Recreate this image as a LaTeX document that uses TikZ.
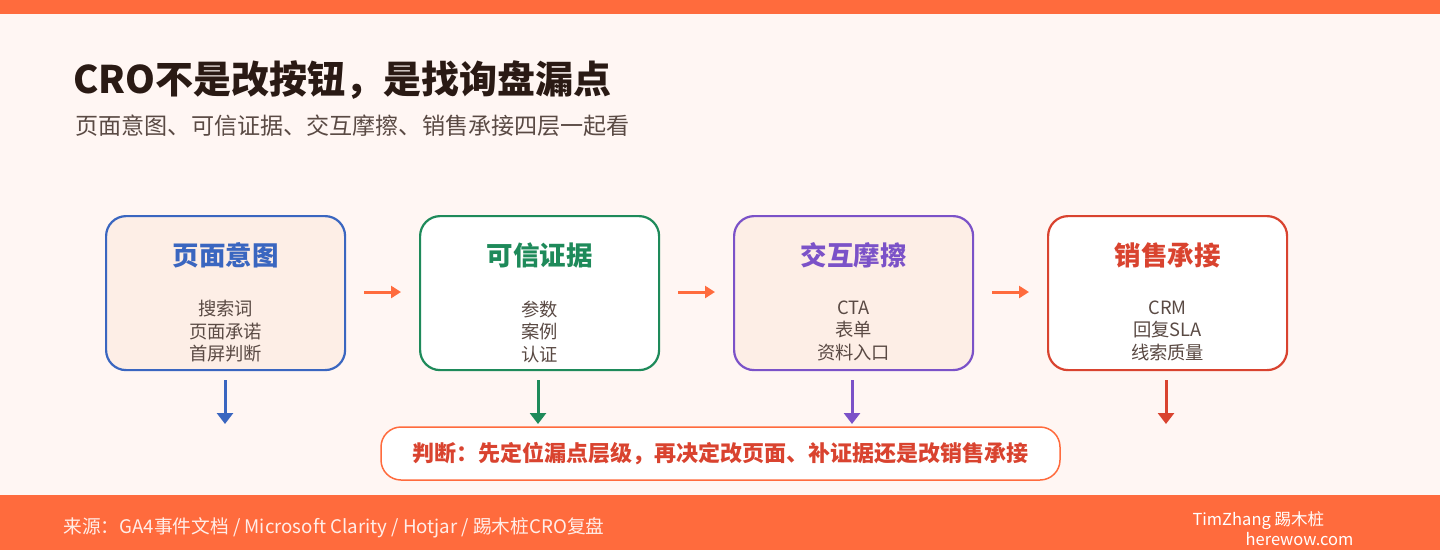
\documentclass[tikz,border=0pt]{standalone}
\usepackage{fontspec}
\usetikzlibrary{arrows.meta}
\setmainfont{Noto Sans CJK SC}
\definecolor{bg}{HTML}{FFF6F3}
\definecolor{org}{HTML}{FF6B3D}
\definecolor{peach}{HTML}{FDEEE6}
\definecolor{cblue}{HTML}{3A66C0}
\definecolor{cgreen}{HTML}{1E8A5A}
\definecolor{cpurp}{HTML}{7B52C8}
\definecolor{cred}{HTML}{D9432F}
\definecolor{ink}{HTML}{2A1A14}
\definecolor{txt}{HTML}{5A4A44}
\begin{document}
\begin{tikzpicture}[x=1pt,y=-1pt,
 card/.style={draw,line width=2.2pt,rounded corners=20pt,minimum width=239pt,minimum height=154pt,anchor=north west},
 ttl/.style={font=\bfseries\fontsize{26.5}{30}\selectfont},
 itm/.style={text=txt,font=\fontsize{18.3}{22.5}\selectfont,align=center},
 harr/.style={org,line width=3pt,-{Triangle[length=10pt,width=12pt]}},
 varr/.style={line width=3pt,-{Triangle[length=11pt,width=16pt]}}]
\fill[bg] (0,0) rectangle (1440,550);
\fill[org] (0,0) rectangle (1440,14);
\fill[org] (0,495) rectangle (1440,550);
\node[anchor=west,text=ink,font=\bfseries\fontsize{38}{44}\selectfont] (title) at (70,80) {CRO不是改按钮，是找询盘漏点};
\node[anchor=west,text=txt,font=\fontsize{23.1}{27}\selectfont] (sub) at (72,126) {页面意图、可信证据、交互摩擦、销售承接四层一起看};
\node[card,draw=cblue,fill=peach] (b1) at (105,215) {};
\node[card,draw=cgreen,fill=white] (b2) at (419,215) {};
\node[card,draw=cpurp,fill=peach] (b3) at (733,215) {};
\node[card,draw=cred,fill=white] (b4) at (1047,215) {};
\foreach \n/\c/\t/\i in {b1/cblue/页面意图/{搜索词\\页面承诺\\首屏判断},b2/cgreen/可信证据/{参数\\案例\\认证},b3/cpurp/交互摩擦/{CTA\\表单\\资料入口},b4/cred/销售承接/{CRM\\回复SLA\\线索质量}}{
 \node[ttl,text=\c] (\n t) at ([yshift=-40pt]\n.north) {\t};
 \node[itm,anchor=north] (\n i) at ([yshift=-82pt]\n.north) {\i};
}
\foreach \a/\b in {b1/b2,b2/b3,b3/b4}{
 \coordinate (s\a) at ([xshift=18pt,yshift=-77pt]\a.north east);
 \coordinate (e\a) at ([xshift=-18pt,yshift=-77pt]\b.north west);
 \draw[harr] (s\a) -- (e\a);
}
\node[draw=org,line width=1.5pt,fill=white,rounded corners=20pt,minimum width=679pt,minimum height=53pt,text=cred,font=\bfseries\fontsize{22}{26}\selectfont] (judge) at (720.5,453.5) {判断：先定位漏点层级，再决定改页面、补证据还是改销售承接};
\foreach \n/\c/\x in {b1/cblue/225,b2/cgreen/538,b3/cpurp/852,b4/cred/1166}{
 \coordinate (d\n) at (\x,424);
 \draw[varr,\c] ([yshift=-9pt]\n.south -| d\n) -- (d\n);
}
\node[anchor=west,text=white!88!org,font=\fontsize{18.7}{21}\selectfont] (src) at (60,528) {来源：GA4事件文档 / Microsoft Clarity / Hotjar / 踢木桩CRO复盘};
\node[anchor=west,text=white,font=\fontsize{16.5}{20}\selectfont] (au) at (1189,521) {TimZhang 踢木桩};
\node[anchor=east,text=white,font=\fontsize{16.5}{20}\selectfont] (url) at (1357,539) {herewow.com};
\end{tikzpicture}
\end{document}
